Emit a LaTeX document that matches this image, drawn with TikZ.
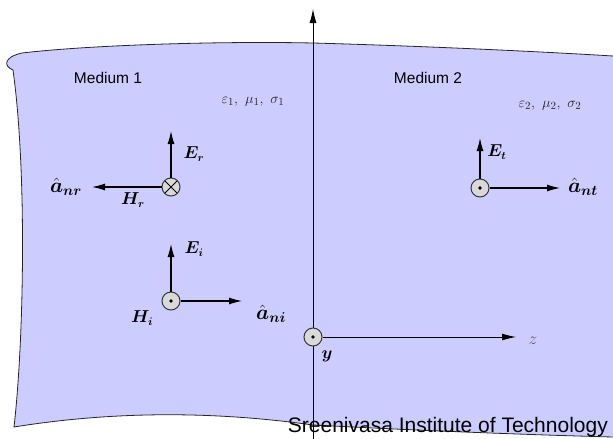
\documentclass[tikz,border=0pt]{standalone}
\usepackage{amsmath}
\usepackage{amssymb}
\usepackage{bm}
\usepackage{fontspec}
\setsansfont{Liberation Sans}
\usetikzlibrary{arrows.meta}
\definecolor{lavender}{RGB}{204,204,255}
\definecolor{rim}{RGB}{55,55,55}

\begin{document}
\begin{tikzpicture}[x=1pt, y=-1pt,
  every node/.style={inner sep=0pt},
  edge/.style={line width=0.8pt, color=black!85},
  vec/.style={-{Latex[length=13pt,width=7pt]}, line width=1.1pt},
  axis/.style={-{Latex[length=14pt,width=7pt]}, line width=0.9pt},
  outof/.style={circle, draw=rim, fill=black!15, line width=1pt, minimum size=18pt,
    path picture={\fill[black] (path picture bounding box.center) circle (1.8pt);}},
  into/.style={circle, draw=rim, fill=black!15, line width=1pt, minimum size=18pt,
    path picture={\draw[black, line width=0.9pt]
      (path picture bounding box.south west) -- (path picture bounding box.north east)
      (path picture bounding box.north west) -- (path picture bounding box.south east);}},
  lbl/.style={font=\fontsize{16}{18}\selectfont},
  unit/.style={font=\fontsize{21}{23}\selectfont},
  med/.style={font=\sffamily\fontsize{15.5}{18}\selectfont},
  mat/.style={font=\fontsize{15}{17}\selectfont, color=black!85}
]
  \useasboundingbox (0,0) rectangle (613,439);

  % the two media
  \fill[lavender] (13,70) .. controls (3,66) and (4,57) .. (22,53)
    .. controls (90,45) and (220,41) .. (313,43)
    .. controls (420,46) and (530,51) .. (613,56) -- (613,437)
    .. controls (500,434) and (390,429) .. (313,425)
    .. controls (220,412) and (120,410) .. (14,427)
    .. controls (24,340) and (27,170) .. (13,70) -- cycle;
  \draw[edge] (613,56) .. controls (530,51) and (420,46) .. (313,43)
    .. controls (220,41) and (90,45) .. (22,53)
    .. controls (4,57) and (3,66) .. (13,70)
    .. controls (27,170) and (24,340) .. (14,427)
    .. controls (120,410) and (220,412) .. (313,425)
    .. controls (390,429) and (500,434) .. (613,437);

  \node[med] (m1) at (108,78) {Medium 1};
  \node[med] (m2) at (428,78) {Medium 2};
  \node[mat] (p1) at (253,102) {$\varepsilon_1,\ \mu_1,\ \sigma_1$};
  \node[mat] (p2) at (550,106) {$\varepsilon_2,\ \mu_2,\ \sigma_2$};

  % axes
  \coordinate (ybot) at (313,439);
  \coordinate (ytop) at (313,9);
  \coordinate (ztip) at (516,337);
  \draw[axis] (ybot) -- (ytop);
  \node[outof] (o) at (313,337) {};
  \draw[axis] (o.east) -- (ztip);
  \node[font=\fontsize{16}{18}\selectfont, color=black!65] (zl) at (533,341) {$z$};
  \node[lbl] (yl) at (327,356) {$\bm{y}$};

  % reflected wave
  \node[into] (cr) at (171,187) {};
  \coordinate (ertip) at (171,131);
  \coordinate (hrtip) at (92,187);
  \draw[vec] (cr) -- (ertip);
  \draw[vec] (cr) -- (hrtip);
  \node[lbl] (er) at (194,154) {$\bm{E}_{\bm r}$};
  \node[lbl] (hr) at (133,200) {$\bm{H}_{\bm r}$};
  \node[unit] (anr) at (66,187) {$\hat{\bm a}_{\bm{nr}}$};

  % incident wave
  \node[outof] (ci) at (171,301) {};
  \coordinate (eitip) at (171,244);
  \coordinate (aitip) at (242,301);
  \draw[vec] (ci) -- (eitip);
  \draw[vec] (ci) -- (aitip);
  \node[lbl] (ei) at (194,249) {$\bm{E}_{\bm i}$};
  \node[lbl] (hi) at (142,318) {$\bm{H}_{\bm i}$};
  \node[unit] (ani) at (271,314) {$\hat{\bm a}_{\bm{ni}}$};

  % transmitted wave
  \node[outof] (ct) at (480,188) {};
  \coordinate (ettip) at (480,138);
  \coordinate (attip) at (560,188);
  \draw[vec] (ct) -- (ettip);
  \draw[vec] (ct) -- (attip);
  \node[lbl] (et) at (497,152) {$\bm{E}_{\bm t}$};
  \node[unit] (ant) at (583,187) {$\hat{\bm a}_{\bm{nt}}$};

  \node[font=\sffamily\fontsize{21}{24}\selectfont, anchor=base east] (wm) at (608,432)
    {Sreenivasa Institute of Technology};
\end{tikzpicture}
\end{document}
